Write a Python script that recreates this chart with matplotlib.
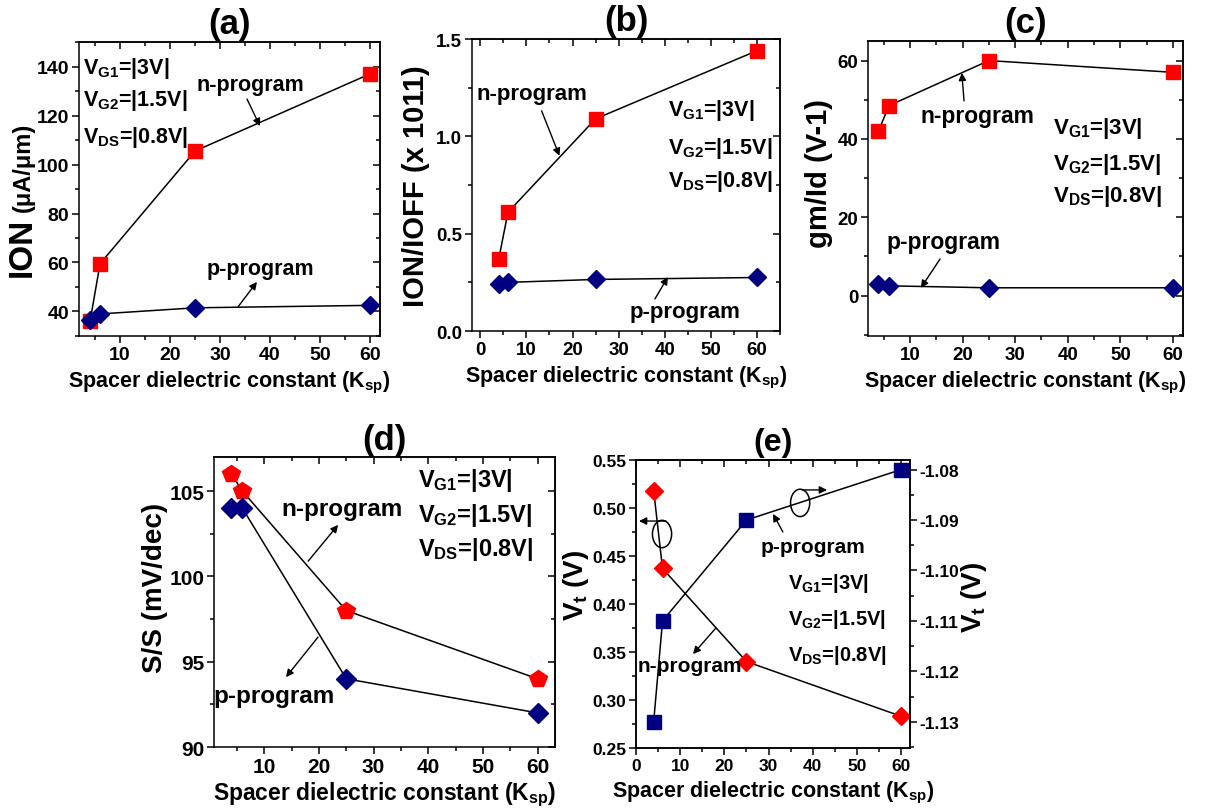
import matplotlib
matplotlib.use('Agg')
import matplotlib.pyplot as plt
from matplotlib.patches import Ellipse
from matplotlib.ticker import MultipleLocator, FormatStrFormatter

plt.rcParams['font.family'] = ['Liberation Sans', 'DejaVu Sans']
plt.rcParams['font.weight'] = 'bold'
plt.rcParams['mathtext.fontset'] = 'custom'
plt.rcParams['mathtext.rm'] = 'Liberation Sans:bold'
plt.rcParams['mathtext.it'] = 'Liberation Sans:bold'
plt.rcParams['mathtext.bf'] = 'Liberation Sans:bold'
plt.rcParams['axes.linewidth'] = 1.1

# spacer dielectric constants
K_SP = [4, 6, 25, 60]

# (a) on current, uA/um
ion_n = [36, 59.5, 105.5, 137]
ion_p = [36.5, 39, 41.5, 42.5]
# (b) on/off ratio, x 1e11
ratio_n = [0.37, 0.61, 1.09, 1.44]
ratio_p = [0.24, 0.25, 0.265, 0.275]
# (c) gm/Id, 1/V
gm_n = [42, 48.5, 60, 57]
gm_p = [3, 2.5, 2, 2]
# (d) subthreshold swing, mV/dec
ss_n = [106, 105, 98, 94]
ss_p = [104, 104, 94, 92]
# (e) threshold voltage, V (n on left axis, p on right axis)
vt_n = [0.518, 0.437, 0.34, 0.283]
vt_p = [-1.130, -1.110, -1.090, -1.080]

BIAS = [r'V$_{\rm G1}$=|3V|', r'V$_{\rm G2}$=|1.5V|', r'V$_{\rm DS}$=|0.8V|']
XLABEL = r'Spacer dielectric constant (K$_{\rm sp}$)'

RED = '#ff0000'
NAVY = '#000080'


def style(ax, xlim, ylim, xmaj, xmin, ymaj, ymin, size, yfmt=None, mirror_right=True):
    ax.set_xlim(*xlim)
    ax.set_ylim(*ylim)
    ax.xaxis.set_major_locator(MultipleLocator(xmaj))
    ax.xaxis.set_minor_locator(MultipleLocator(xmin))
    ax.yaxis.set_major_locator(MultipleLocator(ymaj))
    ax.yaxis.set_minor_locator(MultipleLocator(ymin))
    if yfmt:
        ax.yaxis.set_major_formatter(FormatStrFormatter(yfmt))
    ax.tick_params(which='both', direction='out', width=1.1, labelsize=size, pad=2)
    ax.tick_params(which='major', length=5)
    ax.tick_params(which='minor', length=3)
    top = ax.secondary_xaxis('top')
    top.xaxis.set_major_locator(MultipleLocator(xmaj))
    top.xaxis.set_minor_locator(MultipleLocator(xmin))
    top.tick_params(which='both', direction='in', width=1.1, labeltop=False)
    top.tick_params(which='major', length=5)
    top.tick_params(which='minor', length=3)
    if mirror_right:
        right = ax.secondary_yaxis('right')
        right.yaxis.set_major_locator(MultipleLocator(ymaj))
        right.yaxis.set_minor_locator(MultipleLocator(ymin))
        right.tick_params(which='both', direction='in', width=1.1, labelright=False)
        right.tick_params(which='major', length=5)
        right.tick_params(which='minor', length=3)


def series(ax, y, marker, color, ms):
    ax.plot(K_SP, y, color='k', lw=1.1, zorder=2)
    ax.plot(K_SP, y, ls='none', marker=marker, color=color, mec=color, ms=ms, zorder=3)


def note(ax, text, pos, tail, head, size):
    ax.text(*pos, text, transform=ax.transAxes, ha='center', va='center', fontsize=size)
    ax.annotate('', xy=head, xytext=tail, xycoords='axes fraction', textcoords='axes fraction',
                arrowprops=dict(arrowstyle='-|>', color='k', lw=1, mutation_scale=11,
                                shrinkA=0, shrinkB=0))


def bias(ax, x, ys, size):
    for text, y in zip(BIAS, ys):
        ax.text(x, y, text, transform=ax.transAxes, ha='left', va='center', fontsize=size)


def frame(ax, title, tsize, xlab_y, size=15.5):
    ax.text(0.5, 1.062, title, transform=ax.transAxes, ha='center', va='center', fontsize=tsize)
    ax.text(0.5, xlab_y, XLABEL, transform=ax.transAxes, ha='center', va='center', fontsize=size)


fig = plt.figure(figsize=(12.05, 8.12), dpi=100)

# (a)
ax = fig.add_axes([0.0656, 0.585, 0.2498, 0.362])
series(ax, ion_n, 's', RED, 9.5)
series(ax, ion_p, 'D', NAVY, 9.5)
style(ax, (1.8, 62), (30, 150), 10, 5, 20, 10, 14)
frame(ax, '(a)', 25, -0.156)
ax.text(-0.19, 0.405, 'ION', transform=ax.transAxes, rotation=90, ha='center', va='top', fontsize=24)
ax.text(-0.185, 0.425, '(μA/μm)', transform=ax.transAxes, rotation=90, ha='center', va='bottom',
        fontsize=17)
bias(ax, 0.013, [0.915, 0.806, 0.68], 15.5)
note(ax, 'n-program', (0.568, 0.857), (0.558, 0.806), (0.601, 0.714), 15.5)
note(ax, 'p-program', (0.601, 0.228), (0.528, 0.099), (0.591, 0.184), 15.5)

# (b)
ax = fig.add_axes([0.3917, 0.5911, 0.2556, 0.3596])
series(ax, ratio_n, 's', RED, 9.5)
series(ax, ratio_p, 'D', NAVY, 9.5)
style(ax, (-1.8, 65), (0, 1.5), 10, 5, 0.5, 0.25, 13.5, yfmt='%.1f')
frame(ax, '(b)', 25, -0.158)
ax.text(-0.182, 0.5, 'ION/IOFF (x 1011)', transform=ax.transAxes, rotation=90,
        ha='center', va='center', fontsize=21)
bias(ax, 0.636, [0.760, 0.630, 0.514], 15.5)
note(ax, 'n-program', (0.196, 0.812), (0.226, 0.754), (0.284, 0.600), 16)
note(ax, 'p-program', (0.692, 0.068), (0.594, 0.110), (0.636, 0.185), 16)

# (c)
ax = fig.add_axes([0.7203, 0.585, 0.2614, 0.3633])
series(ax, gm_n, 's', RED, 9.5)
series(ax, gm_p, 'D', NAVY, 9.5)
style(ax, (2.0, 61.9), (-10.3, 65), 10, 5, 20, 10, 13.5)
frame(ax, '(c)', 25, -0.156)
ax.text(-0.155, 0.553, 'gm/Id (V-1)', transform=ax.transAxes, rotation=90,
        ha='center', va='center', fontsize=21)
bias(ax, 0.587, [0.708, 0.583, 0.475], 16)
note(ax, 'n-program', (0.346, 0.746), (0.305, 0.797), (0.298, 0.892), 16.5)
note(ax, 'p-program', (0.241, 0.319), (0.229, 0.261), (0.168, 0.163), 16.5)

# (d)
ax = fig.add_axes([0.1776, 0.0788, 0.283, 0.3571])
series(ax, ss_n, 'p', RED, 13)
series(ax, ss_p, 'D', NAVY, 10)
style(ax, (0.8, 63.2), (90, 107), 10, 5, 5, 2.5, 15)
frame(ax, '(d)', 25, -0.162, size=16.5)
ax.text(-0.172, 0.552, 'S/S (mV/dec)', transform=ax.transAxes, rotation=90,
        ha='center', va='center', fontsize=20)
bias(ax, 0.598, [0.924, 0.803, 0.683], 17)
note(ax, 'n-program', (0.375, 0.821), (0.276, 0.641), (0.364, 0.766), 17.5)
note(ax, 'p-program', (0.176, 0.176), (0.305, 0.379), (0.211, 0.241), 17.5)

# (e)
ax = fig.add_axes([0.5278, 0.0776, 0.2274, 0.3547])
ax2 = ax.twinx()
series(ax, vt_n, 'D', RED, 9.5)
series(ax2, vt_p, 's', NAVY, 9.5)
style(ax, (0, 62), (0.25, 0.55), 10, 5, 0.05, 0.025, 12.5, yfmt='%.2f', mirror_right=False)
ax2.set_ylim(-1.1352, -1.0781)
ax2.yaxis.set_major_locator(MultipleLocator(0.01))
ax2.yaxis.set_minor_locator(MultipleLocator(0.005))
ax2.yaxis.set_major_formatter(FormatStrFormatter('%.2f'))
ax2.tick_params(which='both', direction='out', width=1.1, labelsize=12.5, pad=2)
ax2.tick_params(which='major', length=5)
ax2.tick_params(which='minor', length=3)
frame(ax, '(e)', 23, -0.153, size=15.5)
ax.text(-0.218, 0.569, r'V$_{\rm t}$ (V)', transform=ax.transAxes, rotation=90,
        ha='center', va='center', fontsize=20)
ax.text(1.235, 0.528, r'V$_{\rm t}$ (V)', transform=ax.transAxes, rotation=90,
        ha='center', va='center', fontsize=20)
bias(ax2, 0.555, [0.573, 0.448, 0.326], 14.5)
note(ax2, 'p-program', (0.646, 0.701), (0.536, 0.750), (0.500, 0.813), 15)
note(ax2, 'n-program', (0.197, 0.285), (0.292, 0.417), (0.208, 0.326), 15)
for cx, cy in [(0.599, 0.851), (0.095, 0.743)]:
    ax2.add_patch(Ellipse((cx, cy), 0.07, 0.095, transform=ax2.transAxes,
                          fill=False, ec='k', lw=1.1))
ax2.annotate('', xy=(0.697, 0.896), xytext=(0.606, 0.896), xycoords='axes fraction',
             arrowprops=dict(arrowstyle='-|>', color='k', lw=1, mutation_scale=11, shrinkA=0, shrinkB=0))
ax2.annotate('', xy=(0.011, 0.788), xytext=(0.109, 0.788), xycoords='axes fraction',
             arrowprops=dict(arrowstyle='-|>', color='k', lw=1, mutation_scale=11, shrinkA=0, shrinkB=0))

fig.savefig('out.png', dpi=100)
